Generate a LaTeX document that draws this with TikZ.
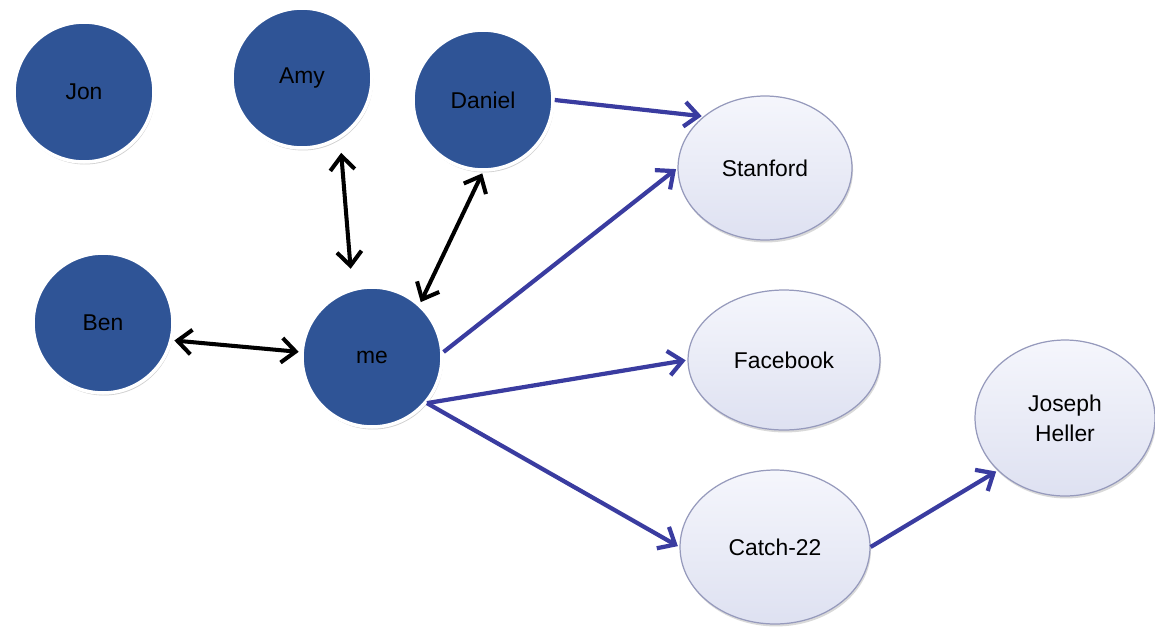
\documentclass[tikz,border=0pt]{standalone}
\usepackage{fontspec}
\setmainfont{Liberation Sans}
\usetikzlibrary{shapes.geometric,shadows,arrows.meta}
\definecolor{persondark}{RGB}{47,84,150}
\definecolor{linkblue}{RGB}{58,60,160}
\definecolor{ovaltop}{RGB}{245,246,252}
\definecolor{ovalbottom}{RGB}{222,225,241}
\definecolor{ovalrim}{RGB}{150,154,188}

\begin{document}
\begin{tikzpicture}
[x=0.02cm,y=-0.02cm,every node/.style={font=\fontsize{13}{17}\selectfont,align=center},
person/.style={circle,minimum size=2.8cm,fill=persondark,draw=white,line width=2pt,
  drop shadow={shadow xshift=0.6pt,shadow yshift=-1.4pt,opacity=0.3,fill=black!60}},
thing/.style={ellipse,top color=ovaltop,bottom color=ovalbottom,draw=ovalrim,line width=0.7pt,
  drop shadow={shadow xshift=0.6pt,shadow yshift=-1.4pt,opacity=0.25,fill=black!60}},
friend/.style={{Straight Barb[length=8pt,width=14pt]}-{Straight Barb[length=8pt,width=14pt]},
  line width=2.3pt,black},
link/.style={-{Straight Barb[length=8pt,width=14pt]},line width=2.4pt,linkblue,shorten >=1pt}]
\useasboundingbox (0,0) rectangle (1155,626);
\node[person] (jon) at (84,92) {Jon};
\node[person] (amy) at (302,78) {Amy};
\node[person] (daniel) at (483,100) {Daniel};
\node[person] (ben) at (103,323) {Ben};
\node[person] (me) at (372,357) {me};
\node[thing,minimum width=3.48cm,minimum height=2.88cm] (stanford) at (765,168) {Stanford};
\node[thing,minimum width=3.84cm,minimum height=2.8cm] (facebook) at (784,360) {Facebook};
\node[thing,minimum width=3.8cm,minimum height=3.08cm] (catch) at (775,547) {Catch-22};
\node[thing,minimum width=3.6cm,minimum height=3.12cm] (heller) at (1065,418) {Joseph\\Heller};
\foreach \from/\to/\s/\e in {amy.-58/me.106/8pt/11pt,daniel.-90/me.48/1pt/1pt,ben.-14/me.176/1pt/1pt}
\draw[friend,shorten <=\s,shorten >=\e] (\from) -- (\to);
\foreach \from/\to in {daniel.east/stanford.140,me.4/stanford.west,me.-40/facebook.west,me.-40/catch.west,catch.east/heller.218}
\draw[link] (\from) -- (\to);
\end{tikzpicture}
\end{document}
